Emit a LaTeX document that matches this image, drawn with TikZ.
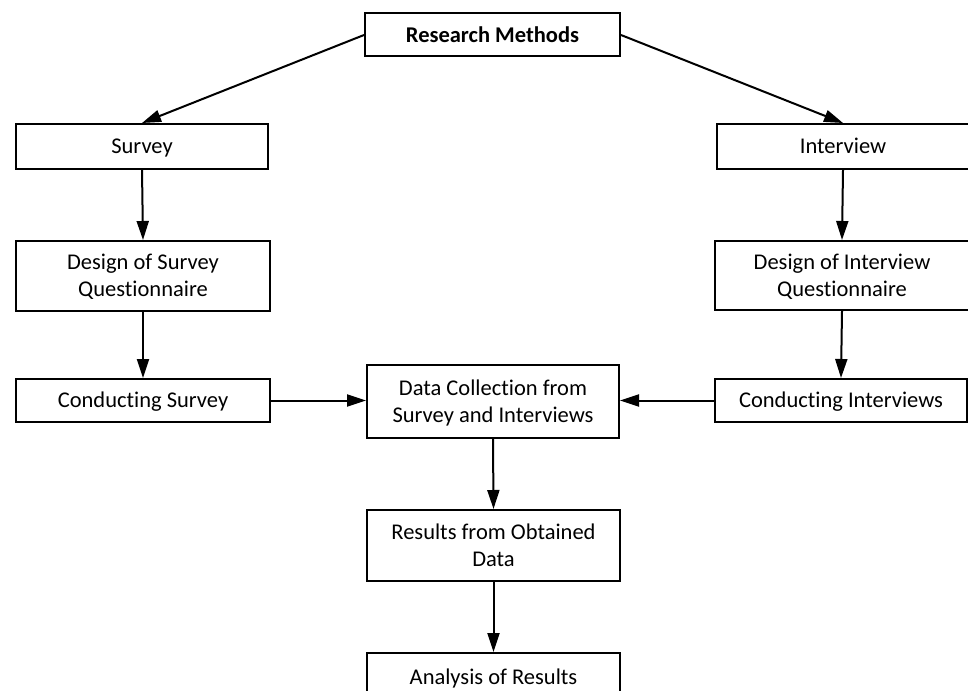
\documentclass[tikz,border=0pt]{standalone}
\usepackage{fontspec}
\setmainfont{Carlito}[Ligatures=NoCommon]
\usetikzlibrary{arrows.meta}
\newcommand\mystrut{\rule[-4.5pt]{0pt}{23.5pt}}
\begin{document}
\begin{tikzpicture}[x=1pt,y=-1pt,
  box/.style={draw=black,line width=2pt,fill=white,rectangle,align=center,inner sep=0pt,
    font=\fontsize{22.5}{27}\selectfont},
  arr/.style={line width=2pt,-{Triangle[length=19pt,width=12pt]}}]
\clip (0,0) rectangle (968,690);
\fill[white] (0,0) rectangle (968,690);
\node[box,minimum width=255pt,minimum height=43pt,font=\fontsize{22.5}{27}\selectfont\bfseries] (rm) at (492.5,35) {\mystrut Research Methods};
\node[box,minimum width=252pt,minimum height=45pt] (survey) at (142,146.5) {\mystrut Survey};
\node[box,minimum width=254pt,minimum height=70pt] (dsurvey) at (143,276) {\mystrut Design of Survey\\\mystrut Questionnaire};
\node[box,minimum width=254pt,minimum height=43pt] (csurvey) at (143,400.5) {\mystrut Conducting Survey};
\node[box,minimum width=252pt,minimum height=45pt] (interview) at (843,146.5) {\mystrut Interview};
\node[box,minimum width=254pt,minimum height=69pt] (dinterview) at (842,275.5) {\mystrut Design of Interview\\\mystrut Questionnaire};
\node[box,minimum width=252pt,minimum height=43pt] (cinterviews) at (841,400.5) {\mystrut Conducting Interviews};
\node[box,minimum width=252pt,minimum height=73pt] (data) at (493,401.5) {\mystrut Data Collection from\\\mystrut Survey and Interviews};
\node[box,minimum width=253pt,minimum height=71pt] (results) at (493.5,545.5) {\mystrut Results from Obtained\\\mystrut Data};
\node[box,minimum width=253pt,minimum height=48pt] (analysis) at (493.5,677) {\mystrut Analysis of Results};
\draw[arr] (rm.west) -- (survey.north);
\draw[arr] (rm.east) -- (interview.north);
\draw[arr] (survey.south) -- (dsurvey.north);
\draw[arr] (dsurvey.south) -- (csurvey.north);
\draw[arr] (interview.south) -- (dinterview.north);
\draw[arr] (dinterview.south) -- (cinterviews.north);
\draw[arr] (csurvey.east) -- (csurvey.east -| data.west);
\draw[arr] (cinterviews.west) -- (cinterviews.west -| data.east);
\draw[arr] (data.south) -- (results.north);
\draw[arr] (results.south) -- (analysis.north);
\end{tikzpicture}
\end{document}
